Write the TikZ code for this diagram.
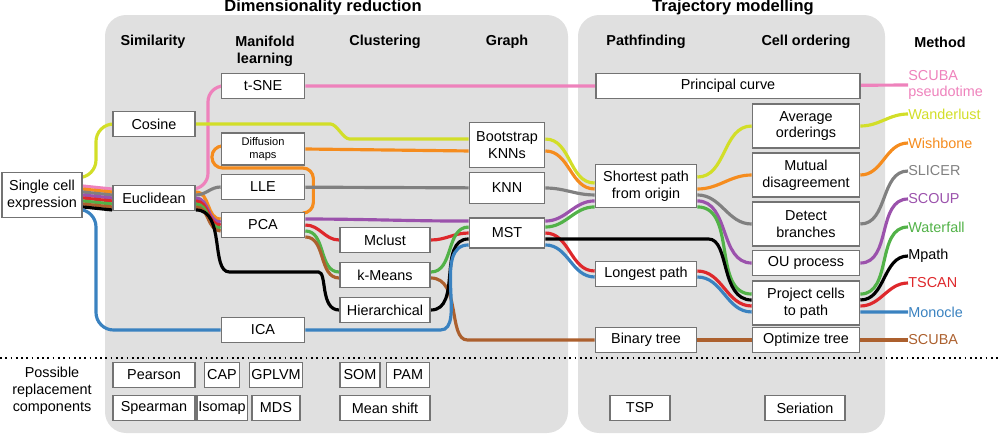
\documentclass[tikz,border=0pt]{standalone}
\usepackage{fontspec}
\setmainfont{Liberation Sans}
\usetikzlibrary{positioning}
\pgfdeclarelayer{panels}
\pgfdeclarelayer{wires}
\pgfsetlayers{panels,wires,main}
\definecolor{cpink}{RGB}{238,130,188}
\definecolor{cyel}{RGB}{210,222,40}
\definecolor{corg}{RGB}{245,140,30}
\definecolor{cgray}{RGB}{128,128,128}
\definecolor{cpur}{RGB}{155,82,172}
\definecolor{cgrn}{RGB}{82,178,72}
\definecolor{cred}{RGB}{222,40,44}
\definecolor{cblu}{RGB}{58,130,192}
\definecolor{cbrn}{RGB}{172,96,46}
\tikzset{
    box/.style={draw=black!55, line width=1pt, fill=white, align=center,
        inner sep=1pt, minimum height=0.5cm, font=\fontsize{8.2}{9.6}\selectfont},
    w/.style={line width=1.8pt, rounded corners=6pt},
    head/.style={font=\bfseries\fontsize{8.2}{9.6}\selectfont, align=center},
    meth/.style={anchor=west, inner sep=0pt, font=\fontsize{8.2}{9.6}\selectfont},
}
\begin{document}
\begin{tikzpicture}[x=0.02cm, y=-0.02cm]
        \useasboundingbox (0,0) rectangle (1000,436);

        % titles and column heads
        \node[head, font=\bfseries\fontsize{9.4}{11}\selectfont] (dimred) at (323,7) {Dimensionality reduction};
        \node[head, font=\bfseries\fontsize{9.4}{11}\selectfont] (trajmod) at (733,7) {Trajectory modelling};
        \node[head] (hsim) at (153,42) {Similarity};
        \node[head] (hman) at (265,51) {Manifold\\learning};
        \node[head] (hclu) at (385,42) {Clustering};
        \node[head] (hgra) at (507,42) {Graph};
        \node[head] (hpat) at (646,42) {Pathfinding};
        \node[head] (hord) at (806,42) {Cell ordering};
        \node[head] (hmet) at (940,42) {Method};

        % input and similarity
        \node[box, minimum width=1.6cm, minimum height=0.9cm] (expr) at (42,195) {Single cell\\expression};
        \node[box, minimum width=1.64cm] (cosine) at (154,124) {Cosine};
        \node[box, minimum width=1.64cm] (eucl) at (154,198) {Euclidean};

        % manifold learning
        \node[box, minimum width=1.66cm] (tsne) at (263,86) {t-SNE};
        \node[box, minimum width=1.66cm, minimum height=0.64cm, font=\fontsize{6.3}{7.4}\selectfont] (diffmap) at (263,149) {Diffusion\\maps};
        \node[box, minimum width=1.66cm] (lle) at (263,187) {LLE};
        \node[box, minimum width=1.66cm] (pca) at (263,225) {PCA};
        \node[box, minimum width=1.66cm] (ica) at (263,330) {ICA};

        % clustering
        \node[box, minimum width=1.8cm] (mclust) at (385,240) {Mclust};
        \node[box, minimum width=1.8cm] (kmeans) at (385,275) {k-Means};
        \node[box, minimum width=1.8cm] (hier) at (385,310) {Hierarchical};

        % graph
        \node[box, minimum width=1.5cm, minimum height=0.9cm] (bootknn) at (507,145) {Bootstrap\\KNNs};
        \node[box, minimum width=1.5cm, minimum height=0.62cm] (knn) at (507,188) {KNN};
        \node[box, minimum width=1.5cm, minimum height=0.6cm] (mst) at (507,233) {MST};

        % pathfinding
        \node[box, minimum width=5.28cm] (princurve) at (728,86) {Principal curve};
        \node[box, minimum width=2.02cm, minimum height=0.86cm] (shortest) at (646,186) {Shortest path\\from origin};
        \node[box, minimum width=2.02cm] (longest) at (646,274) {Longest path};
        \node[box, minimum width=2.02cm] (bintree) at (646,340) {Binary tree};

        % cell ordering
        \node[box, minimum width=2.14cm, minimum height=0.88cm] (avgord) at (806,126) {Average\\orderings};
        \node[box, minimum width=2.14cm, minimum height=0.88cm] (mutual) at (806,175) {Mutual\\disagreement};
        \node[box, minimum width=2.14cm, minimum height=0.88cm] (detect) at (806,224) {Detect\\branches};
        \node[box, minimum width=2.14cm] (ouproc) at (806,263) {OU process};
        \node[box, minimum width=2.14cm, minimum height=0.88cm] (project) at (806,303) {Project cells\\to path};
        \node[box, minimum width=2.14cm] (opttree) at (806,340) {Optimize tree};

        % methods
        \node[meth, text=cpink, align=left] (scubapt) at (908,85) {SCUBA\\pseudotime};
        \node[meth, text=cyel] (wanderlust) at (908,114) {Wanderlust};
        \node[meth, text=corg] (wishbone) at (908,143) {Wishbone};
        \node[meth, text=cgray] (slicer) at (908,171) {SLICER};
        \node[meth, text=cpur] (scoup) at (908,199) {SCOUP};
        \node[meth, text=cgrn] (waterfall) at (908,227) {Waterfall};
        \node[meth] (mpath) at (908,256) {Mpath};
        \node[meth, text=cred] (tscan) at (908,283) {TSCAN};
        \node[meth, text=cblu] (monocle) at (908,312) {Monocle};
        \node[meth, text=cbrn] (scuba) at (908,340) {SCUBA};

        % replacement components
        \node[font=\fontsize{8.2}{9.6}\selectfont, align=center] (repl) at (52,391) {Possible\\replacement\\components};
        \node[box, minimum width=1.64cm] (pearson) at (154,375) {Pearson};
        \node[box, minimum width=1.64cm] (spearman) at (154,408) {Spearman};
        \node[box, minimum width=0.7cm] (cap) at (222,375) {CAP};
        \node[box, minimum width=0.96cm] (gplvm) at (276,375) {GPLVM};
        \node[box, minimum width=0.7cm] (isomap) at (222,408) {Isomap};
        \node[box, minimum width=0.96cm] (mds) at (276,408) {MDS};
        \node[box, minimum width=0.8cm] (som) at (360,375) {SOM};
        \node[box, minimum width=0.86cm] (pam) at (408,375) {PAM};
        \node[box, minimum width=1.8cm] (meanshift) at (385,408) {Mean shift};
        \node[box, minimum width=1.2cm] (tsp) at (640,408) {TSP};
        \node[box, minimum width=1.6cm] (seriation) at (805,408) {Seriation};

        \begin{pgfonlayer}{panels}
        \fill[black!12, rounded corners=12pt] (105,15) rectangle (568,433);
        \fill[black!12, rounded corners=12pt] (578,15) rectangle (885,433);
        \draw[line width=1pt, dotted] (0,358) -- (1000,358);
        \end{pgfonlayer}

        \begin{pgfonlayer}{wires}
        % SCUBA pseudotime
        \draw[w, cpink] ([yshift=5.1pt]expr.east) -- ([yshift=5.1pt]eucl.west);
        \draw[w, cpink, rounded corners=9pt] ([yshift=5.1pt]eucl.east) -| (208,86) -- (tsne.west);
        \draw[w, cpink] (tsne) -- (princurve) -- (scubapt.west);
        % Wanderlust
        \draw[w, cyel, rounded corners=10pt] ([yshift=-3.4pt]expr.north east) -| (96,124) -- (cosine.west);
        \draw[w, cyel] (cosine.east) -- (320,124) to[out=0,in=180] (360,139) -- ([yshift=3.4pt]bootknn.west);
        \draw[w, cyel] ([yshift=3.4pt]bootknn.east) to[out=0,in=180] ([yshift=1.7pt]shortest.west);
        \draw[w, cyel] ([yshift=5.1pt]shortest.east) to[out=0,in=180] (avgord.west);
        \draw[w, cyel] (avgord.east) to[out=0,in=180] (wanderlust.west);
        % Wishbone
        \draw[w, corg] ([yshift=3.4pt]expr.east) -- ([yshift=3.4pt]eucl.west);
        \draw[w, corg] ([yshift=3.4pt]eucl.east) to[out=0,in=180] ([yshift=3.4pt]pca.west);
        \draw[w, corg] ([yshift=6.8pt]pca.east) -- ++(8,0) |- (212,168) |- ([yshift=1.7pt]diffmap.west);
        \draw[w, corg] (diffmap.east) -- ([yshift=-3.4pt]bootknn.west);
        \draw[w, corg] ([yshift=-3.4pt]bootknn.east) to[out=0,in=180] ([yshift=-1.7pt]shortest.west);
        \draw[w, corg] ([yshift=-1.7pt]shortest.east) to[out=0,in=180] (mutual.west);
        \draw[w, corg] (mutual.east) to[out=0,in=180] (wishbone.west);
        % SLICER
        \draw[w, cgray] ([yshift=1.7pt]expr.east) -- ([yshift=1.7pt]eucl.west);
        \draw[w, cgray] ([yshift=1.7pt]eucl.east) to[out=0,in=180] (lle.west);
        \draw[w, cgray] (lle) -- (knn);
        \draw[w, cgray] (knn.east) to[out=0,in=180] ([yshift=-5.1pt]shortest.west);
        \draw[w, cgray] ([yshift=-5.1pt]shortest.east) to[out=0,in=180] (detect.west);
        \draw[w, cgray] (detect.east) to[out=0,in=180] (slicer.west);
        % SCOUP
        \draw[w, cpur] (expr.east) -- (eucl.west);
        \draw[w, cpur] (eucl.east) to[out=0,in=180] ([yshift=1.7pt]pca.west);
        \draw[w, cpur] ([yshift=3.4pt]pca.east) to[out=0,in=180] ([yshift=6.8pt]mst.west);
        \draw[w, cpur] ([yshift=6.8pt]mst.east) to[out=0,in=180] ([yshift=-8.5pt]shortest.west);
        \draw[w, cpur] ([yshift=-8.5pt]shortest.east) to[out=0,in=180] (ouproc.west);
        \draw[w, cpur] (ouproc.east) to[out=0,in=180] (scoup.west);
        % TSCAN
        \draw[w, cred] ([yshift=-1.7pt]expr.east) -- ([yshift=-1.7pt]eucl.west);
        \draw[w, cred] ([yshift=-1.7pt]eucl.east) to[out=0,in=180] (pca.west);
        \draw[w, cred] (pca.east) to[out=0,in=180] (mclust.west);
        \draw[w, cred] (mclust.east) to[out=0,in=180] (mst.west);
        \draw[w, cred] (mst.east) to[out=0,in=180] ([yshift=1.7pt]longest.west);
        \draw[w, cred] ([yshift=1.7pt]longest.east) to[out=0,in=180] ([yshift=-1.7pt]project.west);
        \draw[w, cred] ([yshift=-1.7pt]project.east) to[out=0,in=180] (tscan.west);
        % Waterfall
        \draw[w, cgrn] ([yshift=-3.4pt]expr.east) -- ([yshift=-3.4pt]eucl.west);
        \draw[w, cgrn] ([yshift=-3.4pt]eucl.east) to[out=0,in=180] ([yshift=-1.7pt]pca.west);
        \draw[w, cgrn] ([yshift=-3.4pt]pca.east) to[out=0,in=180] ([yshift=1.7pt]kmeans.west);
        \draw[w, cgrn] ([yshift=1.7pt]kmeans.east) to[out=0,in=180] ([yshift=3.4pt]mst.west);
        \draw[w, cgrn] ([yshift=3.4pt]mst.east) to[out=0,in=180] ([yshift=-11.9pt]shortest.west);
        \draw[w, cgrn] ([yshift=-11.9pt]shortest.east) to[out=0,in=180] ([yshift=5.1pt]project.west);
        \draw[w, cgrn] ([yshift=5.1pt]project.east) to[out=0,in=180] (waterfall.west);
        % SCUBA
        \draw[w, cbrn] ([yshift=-5.1pt]expr.east) -- ([yshift=-5.1pt]eucl.west);
        \draw[w, cbrn] ([yshift=-5.1pt]eucl.east) to[out=0,in=180] ([yshift=-3.4pt]pca.west);
        \draw[w, cbrn] ([yshift=-6.8pt]pca.east) to[out=0,in=180] ([yshift=-1.7pt]kmeans.west);
        \draw[w, cbrn] ([yshift=-1.7pt]kmeans.east) to[out=0,in=180] (478,340) -- (bintree.west);
        \draw[w, cbrn] (bintree) -- (opttree) -- (scuba.west);
        % Mpath
        \draw[w, black] ([yshift=-6.8pt]expr.east) -- ([yshift=-6.8pt]eucl.west);
        \draw[w, black] ([yshift=-6.8pt]eucl.east) to[out=0,in=180] (240,272) -- (308,272) to[out=0,in=180] (hier.west);
        \draw[w, black] (hier.east) to[out=0,in=180] ([yshift=-3.4pt]mst.west);
        \draw[w, black] ([yshift=-3.4pt]mst.east) -- (698,239) to[out=0,in=180] ([yshift=1.7pt]project.west);
        \draw[w, black] ([yshift=1.7pt]project.east) to[out=0,in=180] (mpath.west);
        % Monocle
        \draw[w, cblu, rounded corners=10pt] ([yshift=5.1pt]expr.south east) -| (96,330) -- (ica.west);
        \draw[w, cblu] (ica.east) -- (430,330) to[out=0,in=180] ([yshift=-6.8pt]mst.west);
        \draw[w, cblu] ([yshift=-6.8pt]mst.east) to[out=0,in=180] ([yshift=-1.7pt]longest.west);
        \draw[w, cblu] ([yshift=-1.7pt]longest.east) to[out=0,in=180] ([yshift=-5.1pt]project.west);
        \draw[w, cblu] ([yshift=-5.1pt]project.east) to[out=0,in=180] (monocle.west);
        \end{pgfonlayer}
\end{tikzpicture}
\end{document}
